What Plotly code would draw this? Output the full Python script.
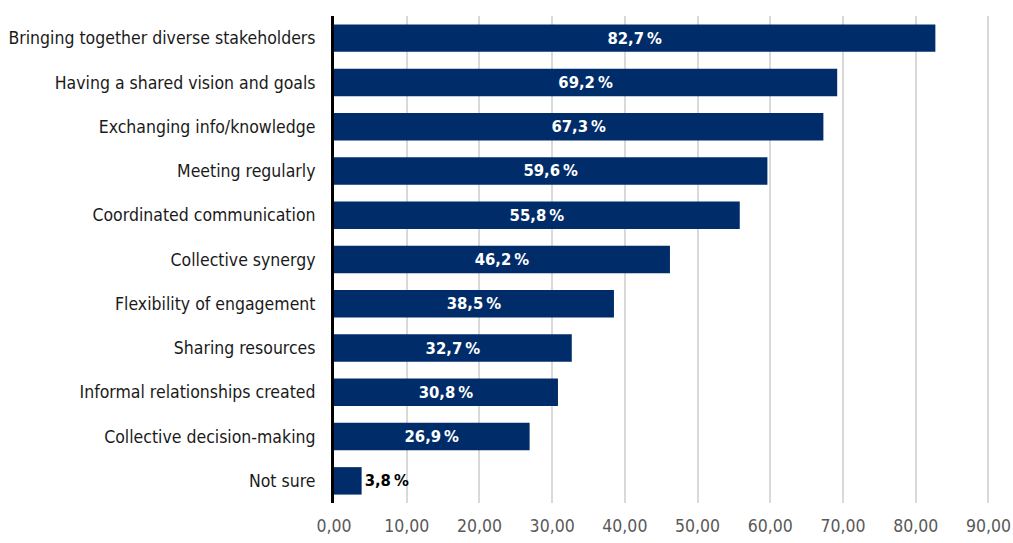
import plotly.graph_objects as go

categories = [
    "Bringing together diverse stakeholders",
    "Having a shared vision and goals",
    "Exchanging info/knowledge",
    "Meeting regularly",
    "Coordinated communication",
    "Collective synergy",
    "Flexibility of engagement",
    "Sharing resources",
    "Informal relationships created",
    "Collective decision-making",
    "Not sure",
]
values = [82.7, 69.2, 67.3, 59.6, 55.8, 46.2, 38.5, 32.7, 30.8, 26.9, 3.8]
tick_vals = [0, 10, 20, 30, 40, 50, 60, 70, 80, 90]

FONT = "Liberation Sans Narrow, DejaVu Sans Condensed, Arial Narrow, sans-serif"

fig = go.Figure(go.Bar(
    x=values,
    y=categories,
    orientation="h",
    marker=dict(color="#002D6A", line=dict(width=0)),
    texttemplate="<b>%{x:.1f}\u2009%</b>",
    textposition="auto",
    insidetextanchor="middle",
    insidetextfont=dict(color="white", size=16.5, family=FONT),
    outsidetextfont=dict(color="black", size=16.5, family=FONT),
    textangle=0,
    cliponaxis=False,
    hoverinfo="skip",
))

fig.update_layout(
    width=1013, height=543,
    margin=dict(l=334, r=10, t=16, b=40, autoexpand=False),
    plot_bgcolor="white", paper_bgcolor="white",
    separators=",.",
    bargap=0.38,
    showlegend=False,
    uniformtext=dict(minsize=16, mode="show"),
    font=dict(family=FONT, size=17.5, color="#222222"),
)
fig.update_xaxes(
    range=[0, 92],
    tickvals=tick_vals,
    tickformat=".2f",
    showgrid=True, gridcolor="#D9D9D9", gridwidth=1.5,
    zeroline=False, showline=False,
    tickfont=dict(family=FONT, size=17.5, color="#595959"),
    ticks="", ticklen=0, ticklabelstandoff=10,
    automargin=False,
)
fig.update_yaxes(
    autorange="reversed",
    showline=True, linecolor="black", linewidth=3,
    ticks="", ticklabelstandoff=12,
    tickfont=dict(family=FONT, size=17.5, color="#1a1a1a"),
    showgrid=False, automargin=False,
)

fig.write_html("out.html")
